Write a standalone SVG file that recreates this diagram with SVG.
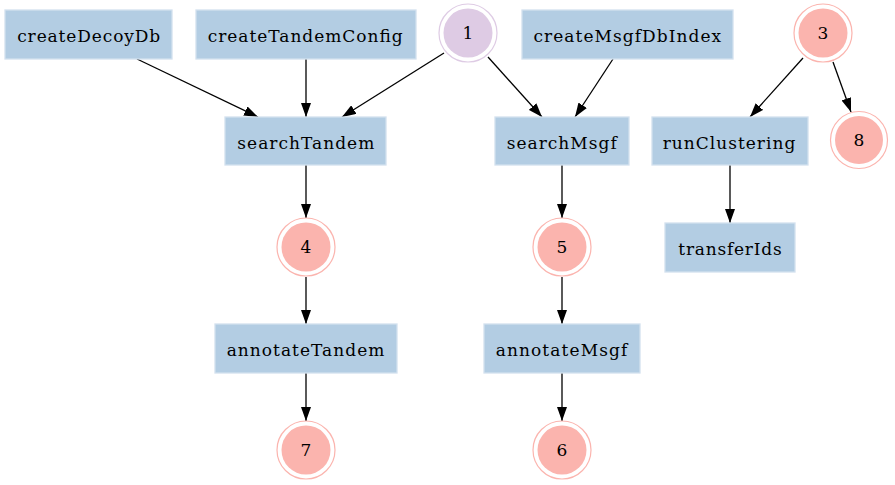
<svg xmlns="http://www.w3.org/2000/svg" width="895" height="485" viewBox="0 0 895 485">
<style>
.box{fill:#b3cde3;stroke:#d3e1ee;stroke-width:1.3}
.ring{fill:none;stroke-width:1.2}
.red .ring{stroke:#fbb4ae}
.red .core{fill:#fbb4ae}
.pur .ring{stroke:#decbe4}
.pur .core{fill:#decbe4}
text{font-family:"DejaVu Serif","Liberation Serif",serif;font-size:17px;fill:#000;text-anchor:middle}
.edges line{stroke:#000;stroke-width:1.3;marker-end:url(#arr)}
</style>
<defs>
<marker id="arr" viewBox="0 0 14 10" refX="14" refY="5" markerWidth="14" markerHeight="10" markerUnits="userSpaceOnUse" orient="auto">
<path d="M0,0 L14,5 L0,10 z" fill="#000"/>
</marker>
</defs>
<rect width="895" height="485" fill="#fff"/>
<g class="edges">
<line x1="137" y1="59" x2="258" y2="117"/>
<line x1="306" y1="59" x2="306" y2="117"/>
<line x1="444" y1="53" x2="342" y2="117"/>
<line x1="488" y1="57" x2="542" y2="117"/>
<line x1="613" y1="59" x2="575" y2="117"/>
<line x1="803" y1="58" x2="750" y2="117"/>
<line x1="833" y1="62" x2="851" y2="112"/>
<line x1="306" y1="165" x2="306" y2="218"/>
<line x1="306" y1="277" x2="306" y2="324"/>
<line x1="306" y1="373" x2="306" y2="421"/>
<line x1="562" y1="165" x2="562" y2="218"/>
<line x1="562" y1="277" x2="562" y2="324"/>
<line x1="562" y1="373" x2="562" y2="421"/>
<line x1="730" y1="165" x2="730" y2="223"/>
</g>
<g id="createDecoyDb"><rect class="box" x="5" y="10" width="167" height="49"/><text x="88.7" y="41.7" textLength="143" lengthAdjust="spacing">createDecoyDb</text></g>
<g id="createTandemConfig"><rect class="box" x="196" y="10" width="220" height="49"/><text x="305.2" y="41.7" textLength="195" lengthAdjust="spacing">createTandemConfig</text></g>
<g id="n1" class="pur"><circle class="ring" cx="468" cy="33" r="29"/><circle class="core" cx="468" cy="33" r="24.5"/><text x="468" y="39.3">1</text></g>
<g id="createMsgfDbIndex"><rect class="box" x="522" y="10" width="211" height="49"/><text x="627.3" y="41.7" textLength="187.7" lengthAdjust="spacing">createMsgfDbIndex</text></g>
<g id="n3" class="red"><circle class="ring" cx="823" cy="33" r="29"/><circle class="core" cx="823" cy="33" r="24.5"/><text x="823" y="39.3">3</text></g>
<g id="searchTandem"><rect class="box" x="225" y="117" width="161" height="48"/><text x="305.8" y="148.5" textLength="137" lengthAdjust="spacing">searchTandem</text></g>
<g id="searchMsgf"><rect class="box" x="495" y="117" width="134" height="48"/><text x="561.7" y="148.5" textLength="110" lengthAdjust="spacing">searchMsgf</text></g>
<g id="runClustering"><rect class="box" x="652" y="117" width="156" height="48"/><text x="729" y="148.5" textLength="132.6" lengthAdjust="spacing">runClustering</text></g>
<g id="n8" class="red"><circle class="ring" cx="859" cy="140" r="28.5"/><circle class="core" cx="859" cy="140" r="24"/><text x="859" y="146.3">8</text></g>
<g id="n4" class="red"><circle class="ring" cx="306" cy="247" r="29"/><circle class="core" cx="306" cy="247" r="24.5"/><text x="306" y="253.3">4</text></g>
<g id="n5" class="red"><circle class="ring" cx="562" cy="247" r="29"/><circle class="core" cx="562" cy="247" r="24.5"/><text x="562" y="253.3">5</text></g>
<g id="transferIds"><rect class="box" x="665" y="223" width="130" height="49"/><text x="730" y="254.5" textLength="103.3" lengthAdjust="spacing">transferIds</text></g>
<g id="annotateTandem"><rect class="box" x="215" y="324" width="182" height="49"/><text x="305.5" y="355.5" textLength="157.7" lengthAdjust="spacing">annotateTandem</text></g>
<g id="annotateMsgf"><rect class="box" x="484" y="324" width="156" height="49"/><text x="561.5" y="355.5" textLength="131.7" lengthAdjust="spacing">annotateMsgf</text></g>
<g id="n7" class="red"><circle class="ring" cx="306" cy="450" r="29"/><circle class="core" cx="306" cy="450" r="24.5"/><text x="306" y="456.3">7</text></g>
<g id="n6" class="red"><circle class="ring" cx="562" cy="450" r="29"/><circle class="core" cx="562" cy="450" r="24.5"/><text x="562" y="456.3">6</text></g>
</svg>
